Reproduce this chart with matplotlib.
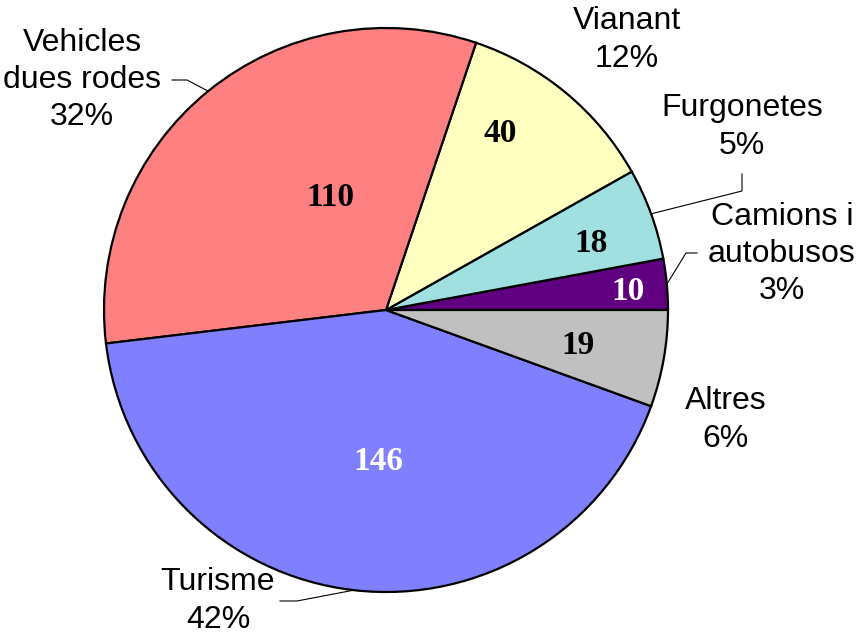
import numpy as np
import matplotlib.pyplot as plt

# wedges, counter-clockwise from 3 o'clock
labels = ['Camions i\nautobusos', 'Furgonetes', 'Vianant', 'Vehicles\ndues rodes', 'Turisme', 'Altres']
values = [10, 18, 40, 110, 146, 19]
pct_labels = ['3%', '5%', '12%', '32%', '42%', '6%']
colors = ['#600080', '#A0E0E0', '#FFFFC0', '#FF8080', '#8080FF', '#C0C0C0']
value_colors = ['white', 'black', 'black', 'black', 'white', 'black']

W, H = 857, 633
cx, cy, R = 386, H - 310, 282

# layout (pixels, y down)
value_pos = [(628, 292), (591, 244), (500, 133), (330, 197), (378, 461), (578, 346)]
label_pos = [(782, 254), (742, 127), (627, 40), (82, 80), (218, 601), (726, 420)]
# leader elbows: (elbow, end) or None
leaders = [((686, 253), (697, 253)),
           ((742, 191), (742, 174)),
           None,
           ((187, 80), (172, 80)),
           ((297, 601), (280, 601)),
           None]

fig = plt.figure(figsize=(W / 100, H / 100), dpi=100)
ax = fig.add_axes([0, 0, 1, 1])

wedges, _ = ax.pie(values, colors=colors, startangle=0, counterclock=True,
                   center=(cx, cy), radius=R,
                   wedgeprops=dict(edgecolor='black', linewidth=1.6))

for i, w in enumerate(wedges):
    vx, vy = value_pos[i]
    ax.text(vx, H - vy, str(values[i]), ha='center', va='center',
            family='Liberation Serif', fontweight='bold', fontsize=24,
            color=value_colors[i])
    lx, ly = label_pos[i]
    ax.text(lx, H - ly, labels[i] + '\n' + pct_labels[i], ha='center', va='center',
            family='Liberation Sans', fontsize=23, linespacing=1.32,
            multialignment='center')
    if leaders[i] is not None:
        mid = np.deg2rad((w.theta1 + w.theta2) / 2)
        ex, ey = cx + R * np.cos(mid), cy + R * np.sin(mid)
        (bx, by), (tx, ty) = leaders[i]
        ax.plot([ex, bx, tx], [ey, H - by, H - ty], color='black', lw=0.8,
                solid_joinstyle='miter')

ax.set_xlim(0, W)
ax.set_ylim(0, H)
ax.axis('off')
fig.savefig('out.png', dpi=100)
